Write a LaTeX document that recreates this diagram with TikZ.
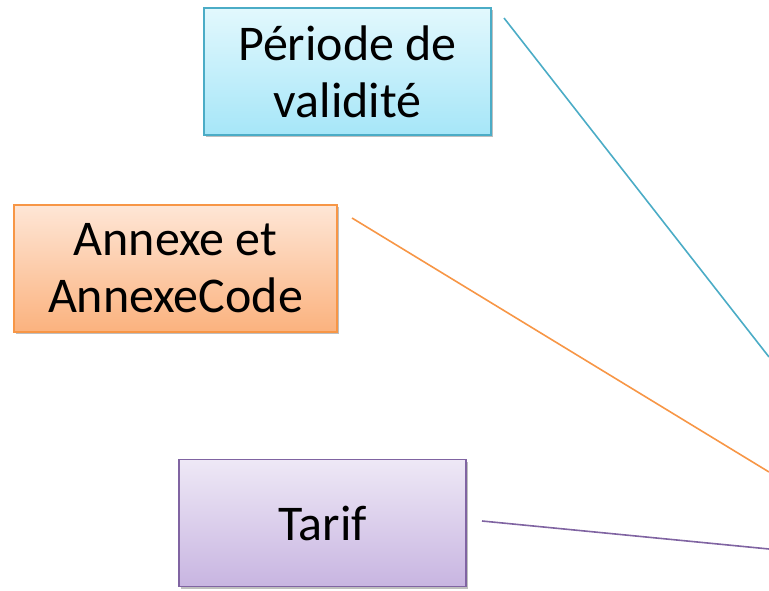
\documentclass[tikz,border=0pt]{standalone}
\usepackage{fontspec}
\setmainfont{Carlito}
\usetikzlibrary{shadows}
\definecolor{cyanB}{HTML}{4BACC6}
\definecolor{cyanT}{HTML}{E2F8FD}
\definecolor{cyanL}{HTML}{A6E6F8}
\definecolor{oraB}{HTML}{F79646}
\definecolor{oraT}{HTML}{FEE6D6}
\definecolor{oraL}{HTML}{FBB27E}
\definecolor{purB}{HTML}{8064A2}
\definecolor{purT}{HTML}{EEE8F6}
\definecolor{purL}{HTML}{C8B5E1}
\tikzset{
  box/.style={draw=#1B, line width=1.2pt, top color=#1T, bottom color=#1L,
    minimum width=287pt, minimum height=127pt, inner sep=0pt, align=center,
    font=\fontsize{50}{57}\selectfont,
    drop shadow={shadow xshift=1.5pt, shadow yshift=-2pt, opacity=0.25, fill=black}},
  link/.style={draw=#1B, line width=1.6pt}
}
\begin{document}
\begin{tikzpicture}[x=1pt,y=-1pt]
\useasboundingbox (0,0) rectangle (769,591);
\node[box=cyan] (per) at (347.5,71.5) {Période de\\validité};
\node[box=ora, minimum width=323pt] (ann) at (175.5,268.5) {Annexe et\\AnnexeCode};
\node[box=pur] (tar) at (322.5,523) {Tarif};
\coordinate (s1) at (504,18);
\coordinate (e1) at (769,357);
\coordinate (s2) at (352,218);
\coordinate (e2) at (769,472);
\coordinate (s3) at (482,521);
\coordinate (e3) at (769,549);
\draw[link=cyan] (s1) -- (e1);
\draw[link=ora] (s2) -- (e2);
\draw[link=pur] (s3) -- (e3);
\end{tikzpicture}
\end{document}
